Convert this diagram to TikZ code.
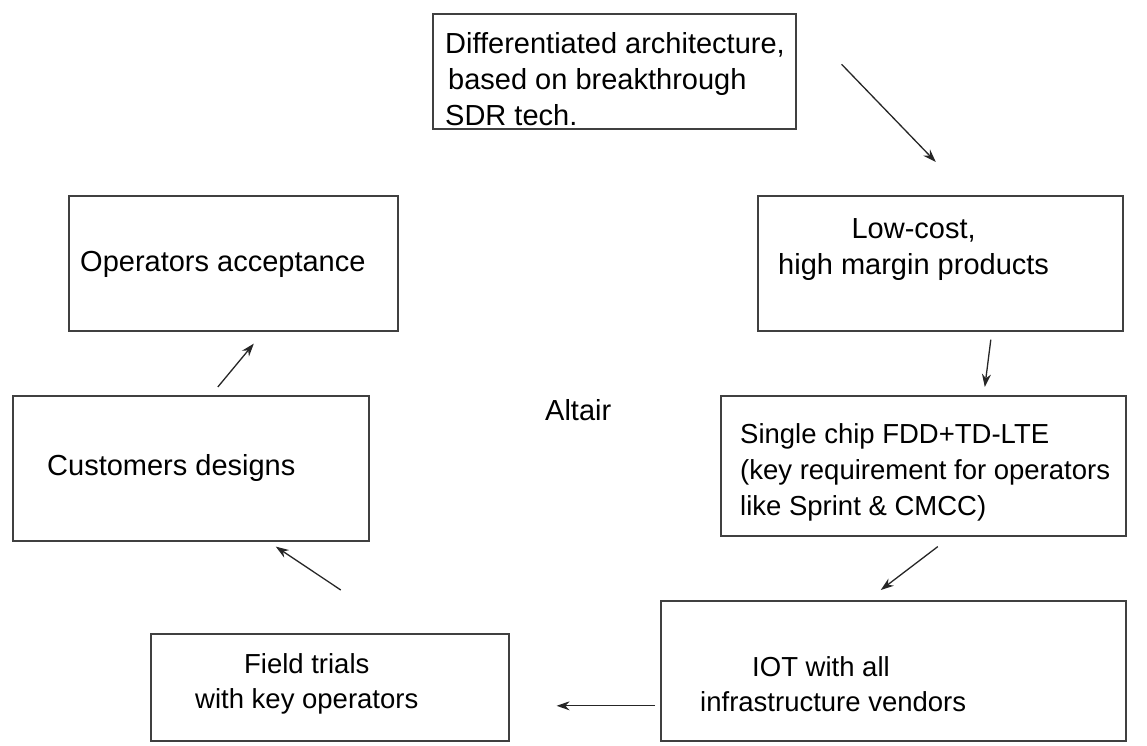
\documentclass[tikz,border=0pt]{standalone}
\usepackage{fontspec}
\setmainfont{Liberation Sans}
\usetikzlibrary{arrows.meta}
\tikzstyle{box} = [rectangle, anchor=north west, inner sep=0pt, draw=black!75, line width=1.6pt]
\tikzstyle{txt} = [anchor=west, align=left, inner sep=0pt, font=\fontsize{29}{36}\selectfont]
\tikzstyle{smalltxt} = [txt, font=\fontsize{27.5}{35.5}\selectfont]
\tikzstyle{arrow} = [line width=1.3pt, draw=black!85, -{Stealth[length=13pt,width=9pt]}]

\begin{document}
\begin{tikzpicture}[x=1pt,y=-1pt]
        \useasboundingbox (0,0) rectangle (1147,745);
        % Boxes
        \node (arch) [box, minimum width=363pt, minimum height=115pt] at (432,13) {};
        \node (lowcost) [box, minimum width=365pt, minimum height=135pt] at (757,195) {};
        \node (chip) [box, minimum width=405pt, minimum height=140pt] at (720,395) {};
        \node (iot) [box, minimum width=465pt, minimum height=140pt] at (660,600) {};
        \node (trials) [box, minimum width=358pt, minimum height=107pt] at (150,633) {};
        \node (designs) [box, minimum width=356pt, minimum height=145pt] at (12,395) {};
        \node (accept) [box, minimum width=329pt, minimum height=135pt] at (68,195) {};

        % Texts
        \node (archtxt) [txt] at (445,79) {Differentiated architecture,\\\hspace*{3pt}based on breakthrough\\SDR tech.};
        \node (lowtxt) [txt, align=center] at (778,250) {Low-cost,\\high margin products};
        \node (chiptxt) [smalltxt, font=\fontsize{27.5}{36}\selectfont] at (740,472) {Single chip FDD+TD-LTE\\(key requirement for operators\\like Sprint \& CMCC)};
        \node (iottxt) [smalltxt] at (700,684) {\hspace*{52pt}IOT with all\\infrastructure vendors};
        \node (trialstxt) [smalltxt, align=center] at (195,684) {Field trials\\with key operators};
        \node (designstxt) [txt] at (47,468) {Customers designs};
        \node (accepttxt) [txt] at (80,264) {Operators acceptance};
        \node (altair) [txt] at (545,410) {Altair};

        % Arrows
        \draw [arrow] ([shift={(45,-7)}]arch.east) -- ([shift={(-4.5,-33)}]lowcost.north);
        \draw [arrow] ([shift={(50.5,8)}]lowcost.south) -- ([shift={(61.5,-8)}]chip.north);
        \draw [arrow] ([shift={(14.5,10)}]chip.south) -- ([shift={(-12.5,-10)}]iot.north);
        \draw [arrow] ([shift={(-5,35)}]iot.west) -- ([shift={(47,18.5)}]trials.east);
        \draw [arrow] ([shift={(11,-43)}]trials.north) -- ([shift={(85,5)}]designs.south);
        \draw [arrow] ([shift={(27,-8)}]designs.north) -- ([shift={(20.5,12)}]accept.south);
    \end{tikzpicture}
\end{document}
